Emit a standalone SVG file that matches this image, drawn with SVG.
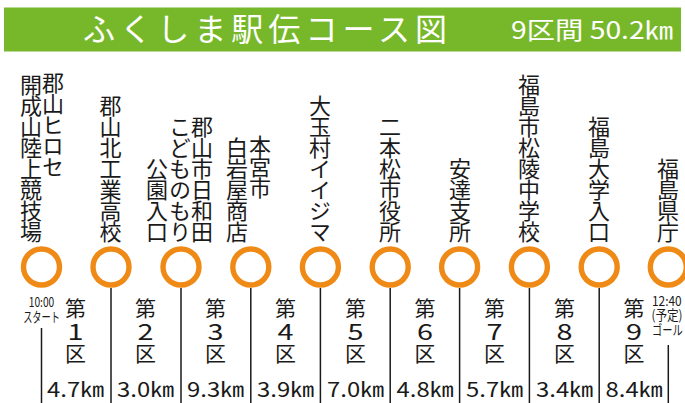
<svg xmlns="http://www.w3.org/2000/svg" width="685" height="403" viewBox="0 0 685 403">
<style>
text{font-family:"Noto Sans CJK JP","Noto Sans",sans-serif;fill:#1a1a1a}
.hd{fill:#ffffff}
.v{writing-mode:vertical-rl;text-orientation:upright;font-size:22px;letter-spacing:-1px}
.vb{text-anchor:end}
.vt{text-anchor:start}
.stop{fill:none;stroke:#ef8a16;stroke-width:5.4}
.ln{stroke:#1a1a1a;stroke-width:1.5;fill:none}
.sec{font-size:21px;text-anchor:middle}
.num{font-size:22px;text-anchor:middle}
.km{font-size:20px;text-anchor:middle}
.sm{font-size:13.5px}
</style>
<g id="header">
<rect x="4" y="7.5" width="677" height="44" fill="#77b82a"/>
<text class="hd" x="83" y="41" font-size="32" textLength="364" lengthAdjust="spacing">ふくしま駅伝コース図</text>
<text class="hd" x="511" y="38.5" font-size="24" textLength="162" lengthAdjust="spacingAndGlyphs">9区間 50.2㎞</text>
</g>
<g id="connectors">
<line class="ln" x1="41.5" y1="328" x2="41.5" y2="403"/>
<line class="ln" x1="111" y1="288" x2="111" y2="403"/>
<line class="ln" x1="181" y1="288" x2="181" y2="403"/>
<line class="ln" x1="250.8" y1="288" x2="250.8" y2="403"/>
<line class="ln" x1="320.4" y1="288" x2="320.4" y2="403"/>
<line class="ln" x1="390.2" y1="288" x2="390.2" y2="403"/>
<line class="ln" x1="459.6" y1="288" x2="459.6" y2="403"/>
<line class="ln" x1="529.4" y1="288" x2="529.4" y2="403"/>
<line class="ln" x1="599.2" y1="288" x2="599.2" y2="403"/>
<line class="ln" x1="668.3" y1="345" x2="668.3" y2="403"/>
</g>
<g id="station1">
<circle class="stop" cx="41.5" cy="267" r="18"/>
<text class="v vt" x="53" y="71.5">郡山ヒロセ</text>
<text class="v vb" x="31" y="242">開成山陸上競技場</text>
<text class="sm" transform="translate(41.5,307) scale(0.76,1)" text-anchor="middle">10:00</text>
<text class="sm" transform="translate(41.5,321.5) scale(0.68,1)" text-anchor="middle">スタート</text>
</g>
<g id="station2">
<circle class="stop" cx="111" cy="267" r="18"/>
<text class="v vb" x="110.5" y="242">郡山北工業高校</text>
</g>
<g id="station3">
<circle class="stop" cx="181" cy="267" r="18"/>
<text class="v vb" x="202" y="242">郡山市日和田</text>
<text class="v vb" x="180" y="242">こどものもり</text>
<text class="v vb" x="157" y="242">公園入口</text>
</g>
<g id="station4">
<circle class="stop" cx="250.8" cy="267" r="18"/>
<text class="v vt" x="260" y="135">本宮市</text>
<text class="v vb" x="237" y="242">白岩屋商店</text>
</g>
<g id="station5">
<circle class="stop" cx="320.4" cy="267" r="18"/>
<text class="v vb" x="320" y="242">大玉村イイジマ</text>
</g>
<g id="station6">
<circle class="stop" cx="390.2" cy="267" r="18"/>
<text class="v vb" x="390" y="242">二本松市役所</text>
</g>
<g id="station7">
<circle class="stop" cx="459.6" cy="267" r="18"/>
<text class="v vb" x="460" y="242">安達支所</text>
</g>
<g id="station8">
<circle class="stop" cx="529.4" cy="267" r="18"/>
<text class="v vb" x="529" y="242">福島市松陵中学校</text>
</g>
<g id="station9">
<circle class="stop" cx="599.2" cy="267" r="18"/>
<text class="v vb" x="599" y="242">福島大学入口</text>
</g>
<g id="station10">
<circle class="stop" cx="668.3" cy="267" r="18"/>
<text class="v vb" x="668" y="242">福島県庁</text>
<text class="sm" transform="translate(652,306) scale(0.88,1)">12:40</text>
<text class="sm" transform="translate(651.5,320) scale(0.86,1)">(予定)</text>
<text class="sm" transform="translate(652,334.5) scale(0.76,1)">ゴール</text>
</g>
<g id="section1"><text class="sec" x="75.5" y="316">第</text><text class="num" x="75.5" y="339.5" textLength="16" lengthAdjust="spacingAndGlyphs">1</text><text class="sec" x="75.5" y="361">区</text><text class="km" x="75.5" y="397" textLength="57" lengthAdjust="spacingAndGlyphs">4.7㎞</text></g>
<g id="section2"><text class="sec" x="145.5" y="316">第</text><text class="num" x="145.5" y="339.5" textLength="16" lengthAdjust="spacingAndGlyphs">2</text><text class="sec" x="145.5" y="361">区</text><text class="km" x="145.5" y="397" textLength="57" lengthAdjust="spacingAndGlyphs">3.0㎞</text></g>
<g id="section3"><text class="sec" x="215.5" y="316">第</text><text class="num" x="215.5" y="339.5" textLength="16" lengthAdjust="spacingAndGlyphs">3</text><text class="sec" x="215.5" y="361">区</text><text class="km" x="215.5" y="397" textLength="57" lengthAdjust="spacingAndGlyphs">9.3㎞</text></g>
<g id="section4"><text class="sec" x="285.5" y="316">第</text><text class="num" x="285.5" y="339.5" textLength="16" lengthAdjust="spacingAndGlyphs">4</text><text class="sec" x="285.5" y="361">区</text><text class="km" x="285.5" y="397" textLength="57" lengthAdjust="spacingAndGlyphs">3.9㎞</text></g>
<g id="section5"><text class="sec" x="355.5" y="316">第</text><text class="num" x="355.5" y="339.5" textLength="16" lengthAdjust="spacingAndGlyphs">5</text><text class="sec" x="355.5" y="361">区</text><text class="km" x="355.5" y="397" textLength="57" lengthAdjust="spacingAndGlyphs">7.0㎞</text></g>
<g id="section6"><text class="sec" x="425" y="316">第</text><text class="num" x="425" y="339.5" textLength="16" lengthAdjust="spacingAndGlyphs">6</text><text class="sec" x="425" y="361">区</text><text class="km" x="425" y="397" textLength="57" lengthAdjust="spacingAndGlyphs">4.8㎞</text></g>
<g id="section7"><text class="sec" x="494.5" y="316">第</text><text class="num" x="494.5" y="339.5" textLength="16" lengthAdjust="spacingAndGlyphs">7</text><text class="sec" x="494.5" y="361">区</text><text class="km" x="494.5" y="397" textLength="57" lengthAdjust="spacingAndGlyphs">5.7㎞</text></g>
<g id="section8"><text class="sec" x="564.5" y="316">第</text><text class="num" x="564.5" y="339.5" textLength="16" lengthAdjust="spacingAndGlyphs">8</text><text class="sec" x="564.5" y="361">区</text><text class="km" x="564.5" y="397" textLength="57" lengthAdjust="spacingAndGlyphs">3.4㎞</text></g>
<g id="section9"><text class="sec" x="634" y="316">第</text><text class="num" x="634" y="339.5" textLength="16" lengthAdjust="spacingAndGlyphs">9</text><text class="sec" x="634" y="361">区</text><text class="km" x="634" y="397" textLength="57" lengthAdjust="spacingAndGlyphs">8.4㎞</text></g>
</svg>
